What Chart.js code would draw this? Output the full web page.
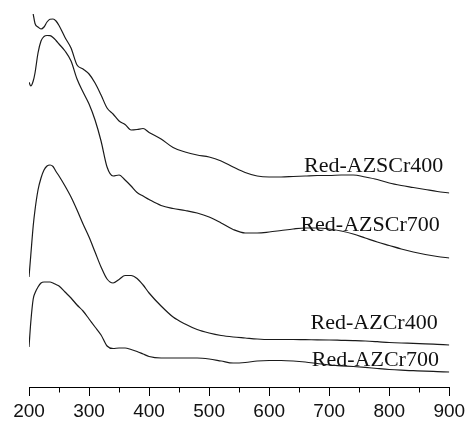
<!DOCTYPE html>
<html>
<head>
<meta charset="utf-8">
<title>UV-vis spectra</title>
<script src="https://cdn.jsdelivr.net/npm/chart.js@4/dist/chart.umd.min.js"></script>
<style>
  html, body { margin: 0; padding: 0; background: #fff; }
  canvas { display: block; }
</style>
</head>
<body>
<canvas id="spectra" width="465" height="423"></canvas>
<script>
// wavelength grid (nm)
const wavelengths = [200, 203, 207, 210, 215, 220, 225, 230, 235, 240, 245, 250,
  260, 270, 280, 290, 300, 310, 320, 330, 340, 350, 360, 370, 380, 390, 400,
  420, 440, 460, 480, 500, 520, 540, 560, 580, 600, 620, 640, 660, 680, 700,
  720, 740, 760, 780, 800, 820, 840, 860, 880, 900];

// absorbance (a.u., stacked with offsets)
const azscr400 = [null, null, 3.73, 3.635, 3.60, 3.58, 3.60, 3.65, 3.677, 3.68, 3.66, 3.615,
  3.495, 3.39, 3.22, 3.18, 3.13, 3.04, 2.92, 2.79, 2.73, 2.66, 2.625, 2.57, 2.575, 2.585, 2.545,
  2.48, 2.395, 2.35, 2.32, 2.30, 2.26, 2.20, 2.145, 2.11, 2.10, 2.10, 2.105, 2.11, 2.115, 2.115,
  2.12, 2.12, 2.10, 2.075, 2.04, 2.015, 1.995, 1.975, 1.955, 1.94];

const azscr700 = [3.047, 3.01, 3.06, 3.14, 3.34, 3.46, 3.505, 3.515, 3.513, 3.495, 3.465, 3.43,
  3.36, 3.26, 3.08, 2.95, 2.83, 2.67, 2.46, 2.20, 2.11, 2.12, 2.07, 2.01, 1.945, 1.91, 1.875,
  1.815, 1.785, 1.765, 1.74, 1.70, 1.64, 1.575, 1.54, 1.54, 1.55, 1.565, 1.58, 1.59, 1.59, 1.58,
  1.56, 1.53, 1.49, 1.45, 1.415, 1.38, 1.35, 1.325, 1.305, 1.29];

const azcr400 = [1.10, 1.32, 1.61, 1.77, 1.97, 2.09, 2.17, 2.21, 2.22, 2.205, 2.155, 2.11,
  2.01, 1.90, 1.77, 1.63, 1.50, 1.35, 1.20, 1.08, 1.04, 1.075, 1.115, 1.115, 1.085, 1.02, 0.94,
  0.81, 0.70, 0.63, 0.575, 0.54, 0.515, 0.50, 0.49, 0.48, 0.475, 0.475, 0.475, 0.473, 0.472, 0.47,
  0.467, 0.464, 0.46, 0.453, 0.445, 0.44, 0.437, 0.432, 0.426, 0.42];

const azcr700 = [0.40, 0.65, 0.88, 0.94, 1.00, 1.04, 1.05, 1.05, 1.05, 1.04, 1.025, 1.01,
  0.95, 0.89, 0.82, 0.76, 0.68, 0.60, 0.52, 0.41, 0.385, 0.39, 0.39, 0.375, 0.355, 0.33, 0.305,
  0.29, 0.29, 0.29, 0.29, 0.28, 0.26, 0.24, 0.245, 0.26, 0.265, 0.265, 0.26, 0.25, 0.235, 0.22,
  0.212, 0.205, 0.196, 0.185, 0.175, 0.168, 0.163, 0.158, 0.154, 0.15];

const seriesNames = ['Red-AZSCr400', 'Red-AZSCr700', 'Red-AZCr400', 'Red-AZCr700'];
// label anchors: [wavelength, absorbance] of the text baseline start
const labelAnchors = [[658, 2.155], [652, 1.56], [669, 0.58], [671, 0.21]];

const minorTicks = [250, 350, 450, 550, 650, 750, 850];

const series = [azscr400, azscr700, azcr400, azcr700];

const datasets = series.map((vals, i) => ({
    label: seriesNames[i],
    data: wavelengths.map((w, j) => ({ x: w, y: vals[j] })),
    borderColor: '#1a1a1a',
    borderWidth: 1.2,
    pointRadius: 0,
    cubicInterpolationMode: 'monotone',
    spanGaps: false,
    fill: false
}));

// short ticks between the labelled ones
const minorTickPlugin = {
    id: 'minorTicks',
    afterDraw(chart) {
        const ctx = chart.ctx;
        const xs = chart.scales.x;
        ctx.save();
        ctx.strokeStyle = '#000';
        ctx.lineWidth = 1;
        ctx.beginPath();
        minorTicks.forEach(v => {
            const px = Math.round(xs.getPixelForValue(v)) + 0.5;
            ctx.moveTo(px, xs.top);
            ctx.lineTo(px, xs.top + 5.5);
        });
        ctx.stroke();
        ctx.restore();
    }
};

// sample names next to each curve
const curveLabelPlugin = {
    id: 'curveLabels',
    afterDatasetsDraw(chart) {
        const ctx = chart.ctx;
        const xs = chart.scales.x, ys = chart.scales.y;
        ctx.save();
        ctx.font = '22px "Liberation Serif", "Times New Roman", serif';
        ctx.fillStyle = '#111';
        ctx.textAlign = 'left';
        ctx.textBaseline = 'alphabetic';
        labelAnchors.forEach((a, i) => {
            ctx.fillText(seriesNames[i], xs.getPixelForValue(a[0]), ys.getPixelForValue(a[1]));
        });
        ctx.restore();
    }
};

new Chart(document.getElementById('spectra'), {
    type: 'line',
    data: { datasets: datasets },
    plugins: [minorTickPlugin, curveLabelPlugin],
    options: {
        responsive: false,
        animation: false,
        devicePixelRatio: 1,
        layout: { padding: { left: 29, right: 0, top: 0, bottom: 0 } },
        plugins: {
            legend: { display: false },
            tooltip: { enabled: false }
        },
        scales: {
            x: {
                type: 'linear',
                min: 200,
                max: 900,
                afterFit(scale) {
                    scale.height = 36;
                    scale.paddingRight = 15.7;
                },
                border: { display: true, color: '#000', width: 1 },
                grid: {
                    drawOnChartArea: false,
                    drawTicks: true,
                    tickLength: 9,
                    tickColor: '#000'
                },
                ticks: {
                    stepSize: 100,
                    padding: 6,
                    color: '#111',
                    maxRotation: 0,
                    font: { family: '"Liberation Sans", Arial, Helvetica, sans-serif', size: 19, lineHeight: 1 }
                }
            },
            y: {
                display: false,
                min: 0,
                max: 3.87
            }
        }
    }
});
</script>
</body>
</html>
